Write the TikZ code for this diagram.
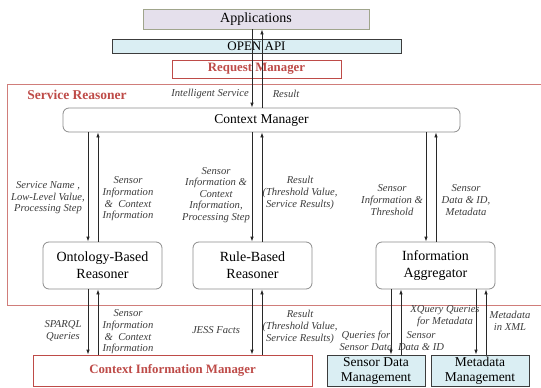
\documentclass[tikz,border=0pt]{standalone}
\usepackage{fontspec}
\setmainfont{Liberation Serif}
\usetikzlibrary{arrows.meta}
\usetikzlibrary{positioning}

\definecolor{mgrred}{RGB}{190,75,72}
\definecolor{srline}{RGB}{208,125,122}
\definecolor{applav}{RGB}{229,224,236}
\definecolor{appedge}{RGB}{160,165,140}
\definecolor{apiblue}{RGB}{218,238,243}
\definecolor{boxedge}{RGB}{60,60,60}
\definecolor{roundgray}{RGB}{140,140,140}
\definecolor{linegray}{RGB}{40,40,40}
\definecolor{lbltext}{RGB}{60,60,60}

\begin{document}
\begin{tikzpicture}[x=1pt,y=-1pt,
    flow/.style={draw=linegray, line width=0.8pt, -{Latex[length=5pt,width=3.5pt]}},
    bluebox/.style={draw=boxedge, fill=apiblue, inner sep=0pt, line width=0.8pt, align=center},
    redbox/.style={draw=mgrred, fill=white, inner sep=0pt, line width=0.8pt, text=mgrred,
      font=\bfseries\fontsize{12.8}{15}\selectfont},
    roundbox/.style={draw=roundgray, fill=white, rounded corners=6pt, inner sep=0pt,
      line width=0.8pt, align=center, font=\fontsize{14}{17}\selectfont},
    lbl/.style={align=center, inner sep=0pt, text=lbltext, font=\itshape\fontsize{10.6}{11.6}\selectfont}]

  \useasboundingbox (0,0) rectangle (541,388);

  % service reasoner frame (runs off the right edge)
  \draw[srline, line width=1pt] (560,84) -- (7,84) -- (7,305) -- (560,305);
  \node[inner sep=0pt, text=mgrred, font=\bfseries\fontsize{13.5}{16}\selectfont] (srtitle) at (77,95) {Service Reasoner};

  % top stack
  \node[draw=appedge, fill=applav, line width=0.8pt, inner sep=0pt, minimum width=226pt, minimum height=20pt,
    font=\fontsize{14}{16}\selectfont] (app) at (256,19) {Applications};
  \node[bluebox, minimum width=289pt, minimum height=14pt, font=\fontsize{13}{15}\selectfont] (api) at (256.5,46) {OPEN API};
  \node[redbox, minimum width=169pt, minimum height=18pt] (req) at (256.5,69) {Request Manager};

  % reasoner
  \node[roundbox, minimum width=397pt, minimum height=24pt, font=\fontsize{13.5}{16}\selectfont] (cm) at (261.5,120) {Context Manager};
  \node[roundbox, minimum width=119pt, minimum height=47pt] (ont) at (102.5,265.5) {Ontology-Based\\Reasoner};
  \node[roundbox, minimum width=119pt, minimum height=47pt] (rule) at (252.5,265.5) {Rule-Based\\Reasoner};
  \node[roundbox, minimum width=119pt, minimum height=47pt] (ia) at (435.5,265.5) {Information\\Aggregator};

  % bottom row
  \node[redbox, minimum width=279pt, minimum height=31pt] (cim) at (172.5,370.5) {Context Information Manager};
  \node[bluebox, minimum width=98pt, minimum height=31pt, font=\fontsize{13.5}{15}\selectfont] (sdm) at (376,370.5) {Sensor Data\\Management};
  \node[bluebox, minimum width=98pt, minimum height=31pt, font=\fontsize{13.5}{15}\selectfont] (meta) at (480,370.5) {Metadata\\Management};

  % connectors
  \foreach \src/\dst/\xx in {app/cm/252, cm/ont/88, cm/rule/252, cm/ia/426, ont/cim/88, rule/cim/252, ia/sdm/391, ia/meta/476}
    \draw[flow] (\xx,0 |- \src.south) -- (\xx,0 |- \dst.north);
  \foreach \src/\dst/\xx in {cm/app/262, ont/cm/98, rule/cm/262, ia/cm/436, cim/ont/98, cim/rule/262, sdm/ia/401, meta/ia/486}
    \draw[flow] (\xx,0 |- \src.north) -- (\xx,0 |- \dst.south);

  % labels
  \node[lbl] (intsvc) at (210,94) {Intelligent Service};
  \node[lbl] (res) at (286,94) {Result};
  \node[lbl] (svcname) at (48,198) {Service Name ,\\Low-Level Value,\\Processing Step};
  \node[lbl] (ontup) at (128,199) {Sensor\\Information\\\&\ \ Context\\Information};
  \node[lbl] (ruledown) at (216,195) {Sensor\\Information \&\\Context\\Information,\\Processing Step};
  \node[lbl] (ruleup) at (300,193) {Result\\(Threshold Value,\\Service Results)};
  \node[lbl] (iadown) at (392,200) {Sensor\\Information \&\\Threshold};
  \node[lbl] (iaup) at (466,200) {Sensor\\Data \& ID,\\Metadata};
  \node[lbl] (sparql) at (63,331) {SPARQL\\Queries};
  \node[lbl] (cimont) at (128,332) {Sensor\\Information\\\&\ \ Context\\Information};
  \node[lbl] (jess) at (216,330) {JESS Facts};
  \node[lbl] (cimrule) at (300,327) {Result\\(Threshold Value,\\Service Results)};
  \node[lbl] (qsensor) at (366,341) {Queries for\\Sensor Data};
  \node[lbl] (sdmup) at (421,341) {Sensor\\Data \& ID};
  \node[lbl] (xquery) at (445,316) {XQuery Queries\\for Metadata};
  \node[lbl] (inxml) at (510,321) {Metadata\\in XML};
\end{tikzpicture}
\end{document}
